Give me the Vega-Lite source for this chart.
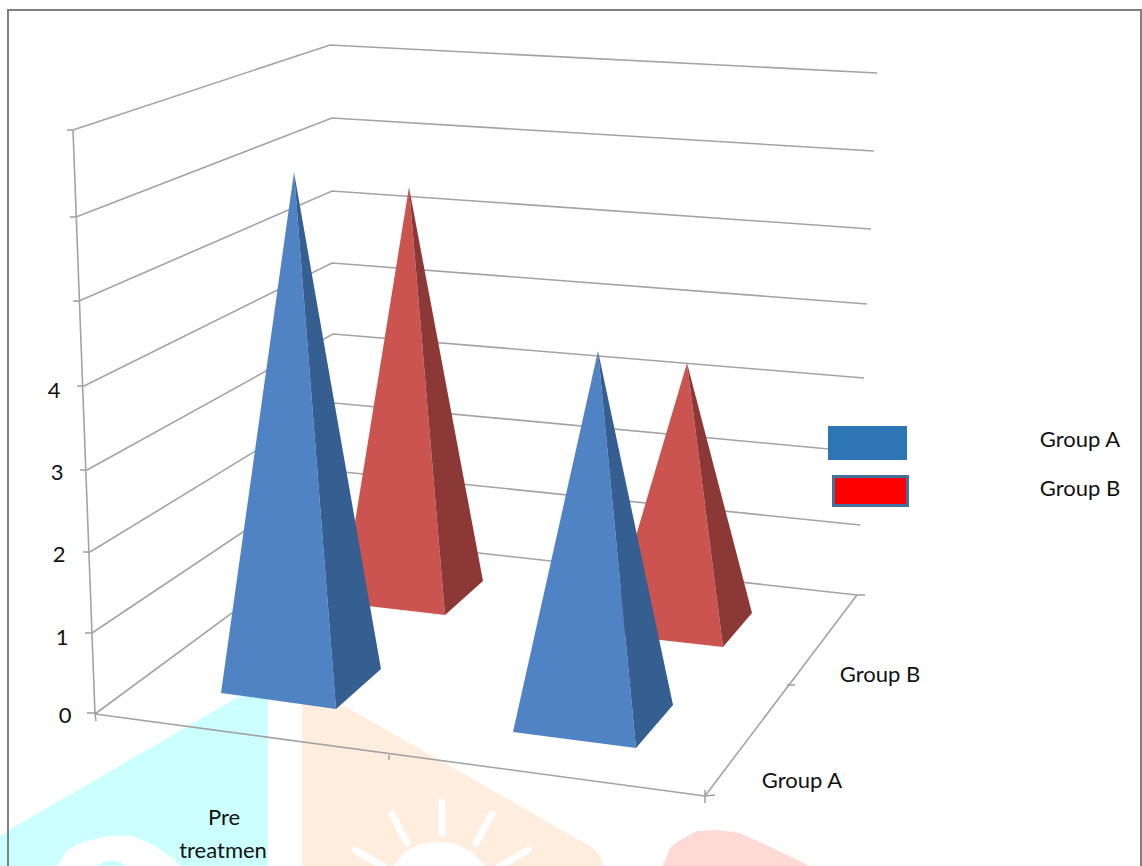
{
  "$schema": "https://vega.github.io/schema/vega-lite/v6.json",
  "width": 1142,
  "height": 866,
  "padding": 0,
  "autosize": "none",
  "background": "white",
  "view": {"stroke": null},
  "config": {"axis": {"domain": false}},
  "datasets": {
    "backdrop": [
      {"shape":"cyan band","tone":"cyan","step":1,"x":0,"y":836},
      {"shape":"cyan band","tone":"cyan","step":2,"x":9,"y":830},
      {"shape":"cyan band","tone":"cyan","step":3,"x":78,"y":790},
      {"shape":"cyan band","tone":"cyan","step":4,"x":240,"y":696},
      {"shape":"cyan band","tone":"cyan","step":5,"x":268,"y":680},
      {"shape":"cyan band","tone":"cyan","step":6,"x":268,"y":866},
      {"shape":"cyan band","tone":"cyan","step":7,"x":0,"y":866},

      {"shape":"cyan arch","tone":"white","step":1,"x":57,"y":866},
      {"shape":"cyan arch","tone":"white","step":2,"x":67,"y":850},
      {"shape":"cyan arch","tone":"white","step":3,"x":83,"y":842},
      {"shape":"cyan arch","tone":"white","step":4,"x":107,"y":836},
      {"shape":"cyan arch","tone":"white","step":5,"x":133,"y":836},
      {"shape":"cyan arch","tone":"white","step":6,"x":153,"y":845},
      {"shape":"cyan arch","tone":"white","step":7,"x":173,"y":858},
      {"shape":"cyan arch","tone":"white","step":8,"x":180,"y":866},

      {"shape":"cyan bump","tone":"cyan","step":1,"x":95,"y":866},
      {"shape":"cyan bump","tone":"cyan","step":2,"x":107,"y":861},
      {"shape":"cyan bump","tone":"cyan","step":3,"x":117,"y":861},
      {"shape":"cyan bump","tone":"cyan","step":4,"x":127,"y":866},

      {"shape":"peach band","tone":"peach","step":1,"x":302,"y":682},
      {"shape":"peach band","tone":"peach","step":2,"x":457,"y":770},
      {"shape":"peach band","tone":"peach","step":3,"x":593,"y":848},
      {"shape":"peach band","tone":"peach","step":4,"x":600,"y":856},
      {"shape":"peach band","tone":"peach","step":5,"x":603,"y":866},
      {"shape":"peach band","tone":"peach","step":6,"x":302,"y":866},

      {"shape":"sun","tone":"white","step":1,"x":393,"y":866},
      {"shape":"sun","tone":"white","step":2,"x":405,"y":852},
      {"shape":"sun","tone":"white","step":3,"x":420,"y":844},
      {"shape":"sun","tone":"white","step":4,"x":438,"y":842},
      {"shape":"sun","tone":"white","step":5,"x":456,"y":844},
      {"shape":"sun","tone":"white","step":6,"x":472,"y":852},
      {"shape":"sun","tone":"white","step":7,"x":485,"y":866},

      {"shape":"pink blob","tone":"pink","step":1,"x":663,"y":866},
      {"shape":"pink blob","tone":"pink","step":2,"x":670,"y":848},
      {"shape":"pink blob","tone":"pink","step":3,"x":680,"y":840},
      {"shape":"pink blob","tone":"pink","step":4,"x":697,"y":831},
      {"shape":"pink blob","tone":"pink","step":5,"x":717,"y":830},
      {"shape":"pink blob","tone":"pink","step":6,"x":740,"y":833},
      {"shape":"pink blob","tone":"pink","step":7,"x":760,"y":842},
      {"shape":"pink blob","tone":"pink","step":8,"x":787,"y":855},
      {"shape":"pink blob","tone":"pink","step":9,"x":810,"y":866}
    ],
    "rays": [
      {"ray":"north","step":1,"x":442,"y":802},
      {"ray":"north","step":2,"x":442,"y":833},
      {"ray":"nnw","step":1,"x":392,"y":814},
      {"ray":"nnw","step":2,"x":407,"y":843},
      {"ray":"nne","step":1,"x":492,"y":814},
      {"ray":"nne","step":2,"x":476,"y":843},
      {"ray":"west","step":1,"x":355,"y":850},
      {"ray":"west","step":2,"x":384,"y":867},
      {"ray":"east","step":1,"x":528,"y":850},
      {"ray":"east","step":2,"x":499,"y":867}
    ],
    "frame": [
      {"step":1,"x":8,"y":866},
      {"step":2,"x":8,"y":10},
      {"step":3,"x":1141,"y":10},
      {"step":4,"x":1141,"y":866}
    ],
    "walls": [
      {"line":"level 7","step":1,"x":73,"y":130},{"line":"level 7","step":2,"x":330,"y":45},{"line":"level 7","step":3,"x":877,"y":73},
      {"line":"level 6","step":1,"x":76,"y":217},{"line":"level 6","step":2,"x":332,"y":118},{"line":"level 6","step":3,"x":874,"y":151},
      {"line":"level 5","step":1,"x":79,"y":301},{"line":"level 5","step":2,"x":332,"y":191},{"line":"level 5","step":3,"x":871,"y":229},
      {"line":"level 4","step":1,"x":84,"y":386},{"line":"level 4","step":2,"x":332,"y":263},{"line":"level 4","step":3,"x":867,"y":304},
      {"line":"level 3","step":1,"x":87,"y":470},{"line":"level 3","step":2,"x":333,"y":334},{"line":"level 3","step":3,"x":864,"y":378},
      {"line":"level 2","step":1,"x":90,"y":552},{"line":"level 2","step":2,"x":334,"y":403},{"line":"level 2","step":3,"x":861,"y":452},
      {"line":"level 1","step":1,"x":92,"y":633},{"line":"level 1","step":2,"x":334,"y":471},{"line":"level 1","step":3,"x":860,"y":525},
      {"line":"level 0","step":1,"x":95,"y":714},{"line":"level 0","step":2,"x":335,"y":537},{"line":"level 0","step":3,"x":857,"y":595},
      {"line":"value axis","step":1,"x":73,"y":130},{"line":"value axis","step":2,"x":95,"y":714},
      {"line":"category axis","step":1,"x":95,"y":714},{"line":"category axis","step":2,"x":705,"y":796},
      {"line":"series axis","step":1,"x":705,"y":796},{"line":"series axis","step":2,"x":857,"y":595},
      {"line":"tick 7","step":1,"x":67,"y":130},{"line":"tick 7","step":2,"x":73,"y":130},
      {"line":"tick 6","step":1,"x":70,"y":217},{"line":"tick 6","step":2,"x":76,"y":217},
      {"line":"tick 5","step":1,"x":73,"y":301},{"line":"tick 5","step":2,"x":79,"y":301},
      {"line":"tick 4","step":1,"x":77,"y":386},{"line":"tick 4","step":2,"x":84,"y":386},
      {"line":"tick 3","step":1,"x":80,"y":470},{"line":"tick 3","step":2,"x":87,"y":470},
      {"line":"tick 2","step":1,"x":83,"y":552},{"line":"tick 2","step":2,"x":90,"y":552},
      {"line":"tick 1","step":1,"x":85,"y":633},{"line":"tick 1","step":2,"x":92,"y":633},
      {"line":"tick 0","step":1,"x":87,"y":713},{"line":"tick 0","step":2,"x":96,"y":713},
      {"line":"tick 0 down","step":1,"x":95,"y":714},{"line":"tick 0 down","step":2,"x":96,"y":721},
      {"line":"tick pre","step":1,"x":389,"y":755},{"line":"tick pre","step":2,"x":389,"y":760},
      {"line":"tick end down","step":1,"x":705,"y":790},{"line":"tick end down","step":2,"x":705,"y":803},
      {"line":"tick end","step":1,"x":705,"y":796},{"line":"tick end","step":2,"x":715,"y":795},
      {"line":"tick mid","step":1,"x":787,"y":685},{"line":"tick mid","step":2,"x":795,"y":685},
      {"line":"tick back","step":1,"x":857,"y":595},{"line":"tick back","step":2,"x":865,"y":595}
    ],
    "solids": [
      {"shape":"legend A","tone":"legend blue","step":1,"x":828,"y":426},
      {"shape":"legend A","tone":"legend blue","step":2,"x":907,"y":426},
      {"shape":"legend A","tone":"legend blue","step":3,"x":907,"y":460},
      {"shape":"legend A","tone":"legend blue","step":4,"x":828,"y":460},
      {"shape":"legend B rim","tone":"legend rim","step":1,"x":832,"y":475},
      {"shape":"legend B rim","tone":"legend rim","step":2,"x":909,"y":475},
      {"shape":"legend B rim","tone":"legend rim","step":3,"x":909,"y":507},
      {"shape":"legend B rim","tone":"legend rim","step":4,"x":832,"y":507},
      {"shape":"legend B","tone":"legend red","step":1,"x":835,"y":478},
      {"shape":"legend B","tone":"legend red","step":2,"x":906,"y":478},
      {"shape":"legend B","tone":"legend red","step":3,"x":906,"y":504},
      {"shape":"legend B","tone":"legend red","step":4,"x":835,"y":504},

      {"shape":"B pre front","tone":"red front","step":1,"x":342,"y":603},
      {"shape":"B pre front","tone":"red front","step":2,"x":445,"y":615},
      {"shape":"B pre front","tone":"red front","step":3,"x":409,"y":187},
      {"shape":"B pre side","tone":"red side","step":1,"x":445,"y":615},
      {"shape":"B pre side","tone":"red side","step":2,"x":483,"y":581},
      {"shape":"B pre side","tone":"red side","step":3,"x":409,"y":187},

      {"shape":"A pre front","tone":"blue front","step":1,"x":221,"y":693},
      {"shape":"A pre front","tone":"blue front","step":2,"x":336,"y":709},
      {"shape":"A pre front","tone":"blue front","step":3,"x":294,"y":172},
      {"shape":"A pre side","tone":"blue side","step":1,"x":336,"y":709},
      {"shape":"A pre side","tone":"blue side","step":2,"x":381,"y":669},
      {"shape":"A pre side","tone":"blue side","step":3,"x":294,"y":172},

      {"shape":"B post front","tone":"red front","step":1,"x":607,"y":634},
      {"shape":"B post front","tone":"red front","step":2,"x":723,"y":647},
      {"shape":"B post front","tone":"red front","step":3,"x":687,"y":363},
      {"shape":"B post side","tone":"red side","step":1,"x":723,"y":647},
      {"shape":"B post side","tone":"red side","step":2,"x":752,"y":613},
      {"shape":"B post side","tone":"red side","step":3,"x":687,"y":363},

      {"shape":"A post front","tone":"blue front","step":1,"x":513,"y":732},
      {"shape":"A post front","tone":"blue front","step":2,"x":636,"y":748},
      {"shape":"A post front","tone":"blue front","step":3,"x":598,"y":351},
      {"shape":"A post side","tone":"blue side","step":1,"x":636,"y":748},
      {"shape":"A post side","tone":"blue side","step":2,"x":673,"y":705},
      {"shape":"A post side","tone":"blue side","step":3,"x":598,"y":351}
    ],
    "labels": [
      {"label":"4","x":54,"y":391},
      {"label":"3","x":57,"y":473},
      {"label":"2","x":59,"y":555},
      {"label":"1","x":62,"y":638},
      {"label":"0","x":65,"y":716},
      {"label":"Pre","x":224,"y":818},
      {"label":"treatmen","x":223,"y":851},
      {"label":"Group A","x":802,"y":781},
      {"label":"Group B","x":880,"y":675},
      {"label":"Group A","x":1080,"y":440},
      {"label":"Group B","x":1080,"y":489}
    ]
  },
  "encoding": {
    "x": {"field":"x","type":"quantitative","axis":null,"scale":{"domain":[0,1142],"nice":false,"zero":false}},
    "y": {"field":"y","type":"quantitative","axis":null,"scale":{"domain":[866,0],"nice":false,"zero":false}}
  },
  "layer": [
    {
      "data": {"name":"backdrop"},
      "mark": {"type":"line","strokeWidth":0,"clip":true},
      "encoding": {
        "detail": {"field":"shape"},
        "order": {"field":"step","type":"quantitative"},
        "fill": {"field":"tone","type":"nominal","legend":null,
          "scale":{
            "domain":["cyan","white","peach","pink","legend blue","legend rim","legend red","red front","red side","blue front","blue side"],
            "range":["#ccffff","#ffffff","#ffeede","#ffd9d5","#2e75b6","#41719c","#ff0000","#cc5450","#8c3836","#4f83c4","#365f91"]
          }}
      }
    },
    {
      "data": {"name":"rays"},
      "mark": {"type":"line","stroke":"#ffffff","strokeWidth":7,"strokeCap":"round","clip":true},
      "encoding": {
        "detail": {"field":"ray"},
        "order": {"field":"step","type":"quantitative"}
      }
    },
    {
      "data": {"name":"frame"},
      "mark": {"type":"line","stroke":"#808080","strokeWidth":2,"clip":true},
      "encoding": {"order": {"field":"step","type":"quantitative"}}
    },
    {
      "data": {"name":"walls"},
      "mark": {"type":"line","stroke":"#a3a3a3","strokeWidth":1.6},
      "encoding": {
        "detail": {"field":"line"},
        "order": {"field":"step","type":"quantitative"}
      }
    },
    {
      "data": {"name":"solids"},
      "mark": {"type":"line","strokeWidth":0},
      "encoding": {
        "detail": {"field":"shape"},
        "order": {"field":"step","type":"quantitative"},
        "fill": {"field":"tone","type":"nominal","legend":null}
      }
    },
    {
      "data": {"name":"labels"},
      "mark": {"type":"text","font":"Lato","fontSize":22,"color":"#111111","align":"center","baseline":"middle"},
      "encoding": {"text": {"field":"label"}}
    }
  ]
}
